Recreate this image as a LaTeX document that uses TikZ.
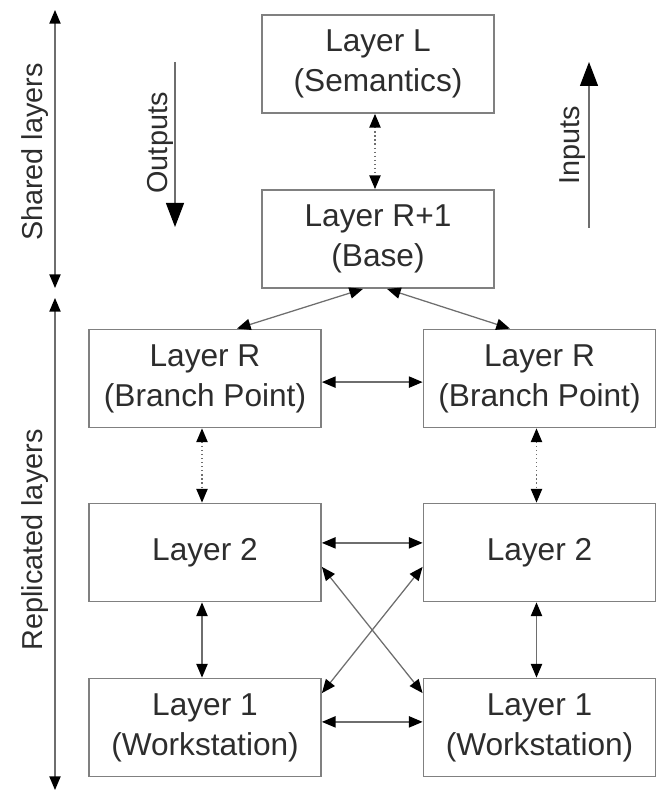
\documentclass[tikz,border=0pt]{standalone}
\usepackage{fontspec}
\setmainfont{Liberation Sans}
\usetikzlibrary{arrows.meta}

\begin{document}
\begin{tikzpicture}[
        layer/.style={draw=boxgray, line width=1.3pt, minimum width=5.8cm, minimum height=2.45cm,
            align=center, text=textgray, font=\fontsize{22.5}{28.5}\selectfont},
        side/.style={rotate=90, text=textgray, font=\fontsize{20.5}{24}\selectfont},
        link/.style={draw=linegray, line width=0.9pt, {Triangle[length=0.34cm,width=0.28cm,color=black]}-{Triangle[length=0.34cm,width=0.28cm,color=black]}},
        weak/.style={link, dotted},
        flow/.style={draw=linegray, line width=0.9pt, -{Triangle[length=0.6cm,width=0.45cm,color=black]}}
    ]
        % Define colors
        \definecolor{boxgray}{RGB}{128,128,128}
        \definecolor{linegray}{RGB}{110,110,110}
        \definecolor{textgray}{RGB}{45,45,45}

        \useasboundingbox (0,0) rectangle (16.5,19.775);

        % Shared layers
        \node[layer] (sem) at (9.45,18.175) {Layer L\\(Semantics)};
        \node[layer] (base) at (9.45,13.8) {Layer R+1\\(Base)};

        % Replicated layers
        \node[layer] (brA) at (5.125,10.3125) {Layer R\\(Branch Point)};
        \node[layer] (brB) at (13.4875,10.3125) {Layer R\\(Branch Point)};
        \node[layer] (twoA) at (5.125,5.9625) {Layer 2};
        \node[layer] (twoB) at (13.4875,5.9625) {Layer 2};
        \node[layer] (oneA) at (5.125,1.5875) {Layer 1\\(Workstation)};
        \node[layer] (oneB) at (13.4875,1.5875) {Layer 1\\(Workstation)};

        % Connections between layers
        \draw[weak] ([xshift=-0.075cm]sem.south) -- ([xshift=-0.075cm]base.north);
        \draw[link] ([xshift=-0.375cm]base.south) -- ([xshift=0.8cm]brA.north);
        \draw[link] ([xshift=0.225cm]base.south) -- ([xshift=-0.74cm]brB.north);
        \draw[link] ([yshift=-0.09cm]brA.east) -- ([yshift=-0.09cm]brB.west);
        \draw[weak] ([xshift=-0.075cm]brA.south) -- ([xshift=-0.075cm]twoA.north);
        \draw[weak] ([xshift=-0.075cm]brB.south) -- ([xshift=-0.075cm]twoB.north);
        \draw[link] ([yshift=0.24cm]twoA.east) -- ([yshift=0.24cm]twoB.west);
        \draw[link] ([yshift=-0.36cm]twoA.east) -- ([yshift=0.86cm]oneB.west);
        \draw[link] ([yshift=0.86cm]oneA.east) -- ([yshift=-0.36cm]twoB.west);
        \draw[link] ([xshift=-0.075cm]twoA.south) -- ([xshift=-0.075cm]oneA.north);
        \draw[link] ([xshift=-0.075cm]twoB.south) -- ([xshift=-0.075cm]oneB.north);
        \draw[link] ([yshift=0.14cm]oneA.east) -- ([yshift=0.14cm]oneB.west);

        % Left axis
        \coordinate (sharedTop) at (1.375,19.525);
        \coordinate (sharedBot) at (1.375,12.575);
        \coordinate (replTop) at (1.375,12.325);
        \coordinate (replBot) at (1.375,0.025);
        \draw[link] (sharedTop) -- (sharedBot);
        \draw[link] (replTop) -- (replBot);
        \node[side] (sharedLbl) at (0.875,15.975) {Shared layers};
        \node[side] (replLbl) at (0.875,6.275) {Replicated layers};

        % Data direction
        \coordinate (outTop) at (4.375,18.225);
        \coordinate (outBot) at (4.375,14.1);
        \coordinate (inTop) at (14.725,18.225);
        \coordinate (inBot) at (14.725,14.075);
        \draw[flow] (outTop) -- (outBot);
        \draw[flow] (inBot) -- (inTop);
        \node[side] (outLbl) at (4.0,16.2) {Outputs};
        \node[side] (inLbl) at (14.325,16.15) {Inputs};

    \end{tikzpicture}
\end{document}
